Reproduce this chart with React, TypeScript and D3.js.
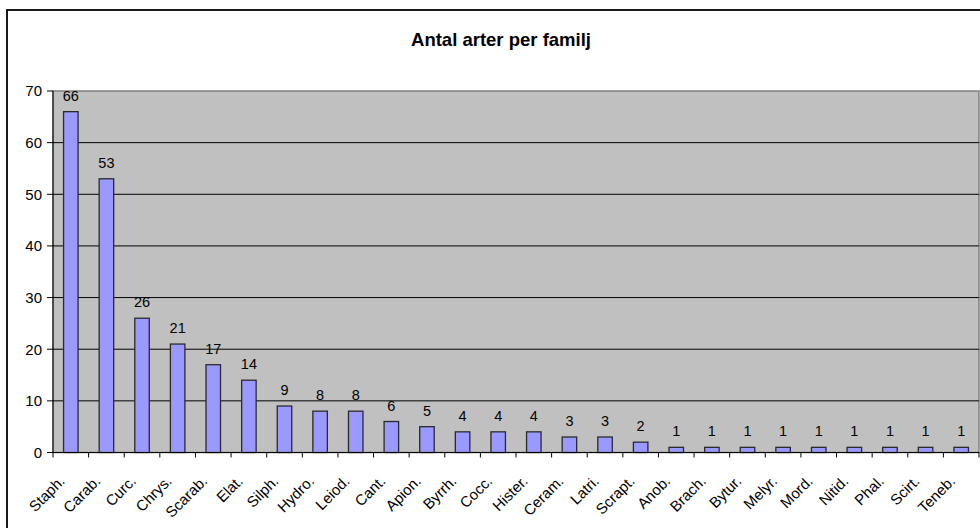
import React from "react";
import * as d3 from "d3";

// Beetle families and number of species recorded in each
const families = [
  "Staph.", "Carab.", "Curc.", "Chrys.", "Scarab.", "Elat.", "Silph.", "Hydro.", "Leiod.",
  "Cant.", "Apion.", "Byrrh.", "Cocc.", "Hister.", "Ceram.", "Latri.", "Scrapt.", "Anob.",
  "Brach.", "Bytur.", "Melyr.", "Mord.", "Nitid.", "Phal.", "Scirt.", "Teneb.",
];
const speciesCount = [66, 53, 26, 21, 17, 14, 9, 8, 8, 6, 5, 4, 4, 4, 3, 3, 2, 1, 1, 1, 1, 1, 1, 1, 1, 1];
const yTicks = [0, 10, 20, 30, 40, 50, 60, 70];
const title = "Antal arter per familj";

const W = 980;
const H = 528;
const plot = { left: 53, right: 979, top: 91, bottom: 452.5 };
const font = "Arial, 'Liberation Sans', sans-serif";

export default function App() {
  const band = d3.scaleBand<string>().domain(families).range([plot.left, plot.right]);
  const y = d3.scaleLinear().domain([0, 70]).range([plot.bottom, plot.top]);
  const barW = 14.5;

  return (
    <svg width={W} height={H} style={{ position: "absolute", left: 0, top: 0, background: "#fff" }} fontFamily={font}>
      {/* chart frame */}
      <rect x={7} y={10} width={W + 20} height={H + 20} fill="#fff" stroke="#1a1a1a" strokeWidth={2} />
      <text x={501} y={46} textAnchor="middle" fontSize={18.5} fontWeight="bold" fill="#000">{title}</text>

      {/* plot area */}
      <rect x={plot.left} y={plot.top} width={plot.right - plot.left} height={plot.bottom - plot.top} fill="#c0c0c0" stroke="#808080" strokeWidth={1.5} />
      {yTicks.filter((t) => t > 0 && t < 70).map((t) => (
        <line key={t} x1={plot.left} x2={plot.right} y1={y(t)} y2={y(t)} stroke="#000" strokeWidth={1} />
      ))}

      {/* bars */}
      {families.map((f, i) => {
        const cx = band(f)! + band.bandwidth() / 2;
        const v = speciesCount[i];
        return (
          <g key={f}>
            <rect x={cx - barW / 2} y={y(v)} width={barW} height={y(0) - y(v)} fill="#9999ff" stroke="#2a2a2a" strokeWidth={1.3} />
            <text x={cx} y={y(v) - 11} textAnchor="middle" fontSize={14.5} fill="#000">{v}</text>
          </g>
        );
      })}

      {/* y axis */}
      <line x1={plot.left} x2={plot.left} y1={plot.top} y2={plot.bottom} stroke="#000" strokeWidth={1} />
      {yTicks.map((t) => (
        <g key={t}>
          <line x1={plot.left - 6} x2={plot.left} y1={y(t)} y2={y(t)} stroke="#000" strokeWidth={1} />
          <text x={plot.left - 11} y={y(t)} dy="0.36em" textAnchor="end" fontSize={15} fill="#000">{t}</text>
        </g>
      ))}

      {/* x axis */}
      <line x1={plot.left} x2={plot.right} y1={plot.bottom} y2={plot.bottom} stroke="#000" strokeWidth={1.2} />
      {d3.range(families.length + 1).map((i) => {
        const tx = plot.left + i * band.step();
        return <line key={i} x1={tx} x2={tx} y1={plot.bottom} y2={plot.bottom + 5} stroke="#000" strokeWidth={1} />;
      })}
      {families.map((f) => {
        const cx = band(f)! + band.bandwidth() / 2;
        const ax = cx - 5;
        const ay = 482;
        return (
          <text key={f} x={ax} y={ay} textAnchor="end" fontSize={15} fill="#000" transform={`rotate(-45 ${ax} ${ay})`}>{f}</text>
        );
      })}
    </svg>
  );
}
